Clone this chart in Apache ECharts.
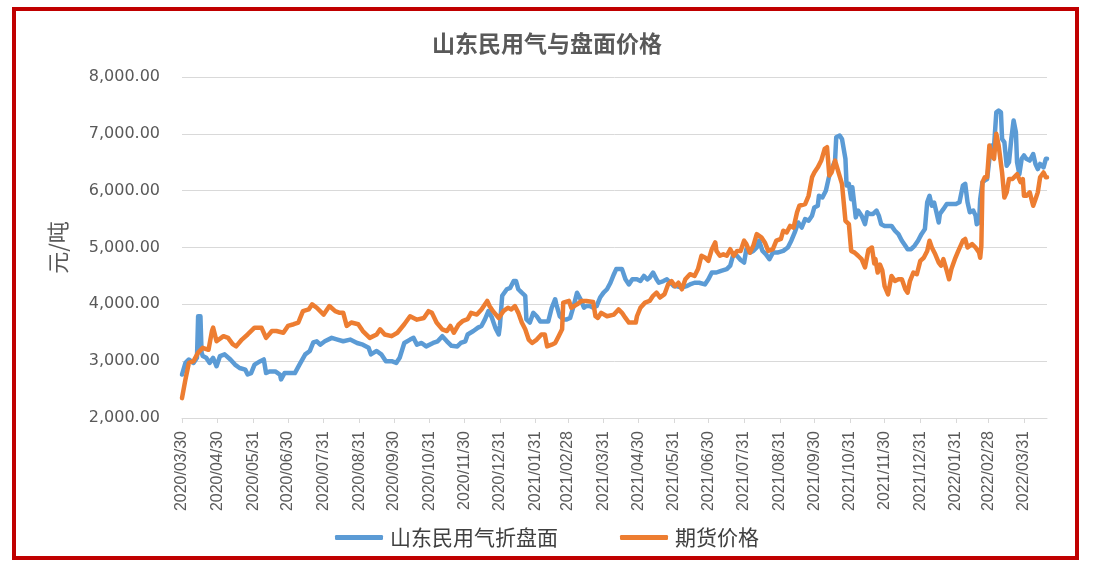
<!DOCTYPE html>
<html>
<head>
<meta charset="utf-8">
<script src="https://cdn.jsdelivr.net/npm/echarts@6/dist/echarts.min.js"></script>
<style>
html,body{margin:0;padding:0;background:#fff;}
#chart{width:1094px;height:569px;}
</style>
</head>
<body>
<div id="chart"></div>
<script>
// ---- Data ----
var chartTitle = '山东民用气与盘面价格';
var seriesNames = ['山东民用气折盘面', '期货价格'];
var yAxisName = '元/吨';
var xStart = '2020-03-30';
var xEnd = '2022-04-20';

var xTickLabels = ['2020/03/30','2020/04/30','2020/05/31','2020/06/30','2020/07/31','2020/08/31',
  '2020/09/30','2020/10/31','2020/11/30','2020/12/31','2021/01/31','2021/02/28','2021/03/31',
  '2021/04/30','2021/05/31','2021/06/30','2021/07/31','2021/08/31','2021/09/30','2021/10/31',
  '2021/11/30','2021/12/31','2022/01/31','2022/02/28','2022/03/31'];

var blueDates = ['2020-03-30','2020-04-02','2020-04-05','2020-04-09','2020-04-12','2020-04-13','2020-04-15','2020-04-16','2020-04-17','2020-04-20',
 '2020-04-23','2020-04-26','2020-04-29','2020-05-02','2020-05-06','2020-05-11','2020-05-15','2020-05-19','2020-05-24','2020-05-26',
 '2020-05-29','2020-06-01','2020-06-06','2020-06-09','2020-06-11','2020-06-14','2020-06-19','2020-06-23','2020-06-24','2020-06-27',
 '2020-07-02','2020-07-06','2020-07-10','2020-07-15','2020-07-19','2020-07-22','2020-07-25','2020-07-28','2020-08-01','2020-08-07',
 '2020-08-12','2020-08-17','2020-08-23','2020-08-29','2020-09-03','2020-09-08','2020-09-10','2020-09-15','2020-09-19','2020-09-23',
 '2020-09-28','2020-10-02','2020-10-05','2020-10-09','2020-10-14','2020-10-17','2020-10-20','2020-10-24','2020-10-28','2020-11-03',
 '2020-11-07','2020-11-11','2020-11-15','2020-11-19','2020-11-24','2020-11-27','2020-12-01','2020-12-03','2020-12-08','2020-12-12',
 '2020-12-15','2020-12-18','2020-12-21','2020-12-24','2020-12-27','2020-12-30','2020-12-31','2021-01-02','2021-01-06','2021-01-09',
 '2021-01-12','2021-01-14','2021-01-16','2021-01-19','2021-01-22','2021-01-23','2021-01-26','2021-01-29','2021-02-01','2021-02-04',
 '2021-02-08','2021-02-11','2021-02-14','2021-02-17','2021-02-18','2021-02-21','2021-02-24','2021-02-27','2021-03-02','2021-03-05',
 '2021-03-08','2021-03-11','2021-03-14','2021-03-16','2021-03-19','2021-03-22','2021-03-25','2021-03-28','2021-03-31','2021-04-03',
 '2021-04-06','2021-04-09','2021-04-11','2021-04-16','2021-04-19','2021-04-22','2021-04-25','2021-04-29','2021-05-02','2021-05-05',
 '2021-05-08','2021-05-10','2021-05-13','2021-05-16','2021-05-18','2021-05-22','2021-05-25','2021-05-28','2021-05-31','2021-06-02',
 '2021-06-07','2021-06-11','2021-06-14','2021-06-18','2021-06-22','2021-06-27','2021-06-30','2021-07-03','2021-07-07','2021-07-11',
 '2021-07-16','2021-07-19','2021-07-22','2021-07-25','2021-07-28','2021-07-31','2021-08-02','2021-08-05','2021-08-08','2021-08-11',
 '2021-08-13','2021-08-16','2021-08-19','2021-08-22','2021-08-25','2021-08-29','2021-09-03','2021-09-07','2021-09-10','2021-09-13',
 '2021-09-16','2021-09-19','2021-09-22','2021-09-25','2021-09-28','2021-09-30','2021-10-03','2021-10-04','2021-10-07','2021-10-10',
 '2021-10-13','2021-10-15','2021-10-18','2021-10-19','2021-10-22','2021-10-24','2021-10-27','2021-10-28','2021-10-30','2021-11-01',
 '2021-11-02','2021-11-05','2021-11-07','2021-11-10','2021-11-13','2021-11-15','2021-11-17','2021-11-20','2021-11-23','2021-11-25',
 '2021-11-27','2021-11-30','2021-12-03','2021-12-06','2021-12-09','2021-12-12','2021-12-15','2021-12-18','2021-12-20','2021-12-23',
 '2021-12-26','2021-12-29','2022-01-01','2022-01-04','2022-01-06','2022-01-08','2022-01-10','2022-01-12','2022-01-14','2022-01-16',
 '2022-01-17','2022-01-20','2022-01-23','2022-01-27','2022-01-31','2022-02-03','2022-02-06','2022-02-08','2022-02-10','2022-02-12',
 '2022-02-15','2022-02-17','2022-02-18','2022-02-20','2022-02-21','2022-02-23','2022-02-25','2022-02-27','2022-03-01','2022-03-03',
 '2022-03-05','2022-03-07','2022-03-09','2022-03-11','2022-03-12','2022-03-14','2022-03-16','2022-03-18','2022-03-20','2022-03-22',
 '2022-03-24','2022-03-25','2022-03-27','2022-03-29','2022-03-31','2022-04-02','2022-04-05','2022-04-08','2022-04-10','2022-04-12',
 '2022-04-14','2022-04-17','2022-04-19','2022-04-20'];
var blueValues = [2765,2970,3030,2970,3060,3790,3790,3150,3090,3060,
 2970,3060,2910,3090,3120,3030,2940,2880,2850,2765,
 2790,2940,3000,3030,2790,2820,2820,2765,2680,2790,
 2790,2790,2940,3120,3180,3330,3350,3290,3350,3410,
 3380,3350,3380,3320,3290,3235,3120,3180,3120,3000,
 3000,2970,3060,3320,3380,3410,3290,3320,3260,3320,
 3350,3440,3350,3270,3260,3320,3350,3470,3530,3590,
 3620,3735,3880,3770,3590,3470,3620,4150,4265,4290,
 4410,4410,4265,4205,4150,3735,3680,3850,3790,3700,
 3700,3700,3940,4090,4000,3790,3735,3735,3760,3970,
 4205,4090,3940,3970,3970,3940,3970,4120,4205,4265,
 4380,4530,4620,4620,4440,4350,4440,4440,4410,4500,
 4440,4470,4560,4440,4380,4410,4440,4380,4320,4320,
 4295,4320,4350,4380,4380,4350,4440,4560,4560,4590,
 4620,4680,4900,4850,4780,4735,4970,4910,4940,5000,
 5120,4940,4880,4795,4910,4910,4940,5000,5120,5265,
 5440,5350,5500,5470,5560,5705,5735,5910,5880,6000,
 6265,6380,6530,6940,6970,6910,6560,6090,6120,5850,
 6060,5530,5650,5560,5410,5620,5590,5590,5650,5560,
 5410,5380,5380,5380,5295,5235,5120,5030,4970,4970,
 5030,5120,5235,5325,5795,5910,5735,5790,5620,5440,
 5590,5675,5765,5765,5765,5795,6090,6120,5795,5620,
 5650,5560,5410,5440,5850,6150,6180,6205,6560,6795,
 6770,7380,7410,7380,6910,6850,6440,6500,6910,7235,
 7030,6500,6290,6560,6620,6560,6530,6645,6470,6380,
 6470,6410,6560,6560];

var orangeDates = ['2020-03-30','2020-04-02','2020-04-05','2020-04-09','2020-04-13','2020-04-17','2020-04-22','2020-04-25','2020-04-26','2020-04-29',
 '2020-05-05','2020-05-09','2020-05-13','2020-05-16','2020-05-21','2020-05-26','2020-06-01','2020-06-07','2020-06-11','2020-06-16',
 '2020-06-20','2020-06-26','2020-06-30','2020-07-05','2020-07-09','2020-07-13','2020-07-18','2020-07-21','2020-07-25','2020-07-31',
 '2020-08-05','2020-08-10','2020-08-14','2020-08-17','2020-08-20','2020-08-24','2020-08-30','2020-09-03','2020-09-09','2020-09-15',
 '2020-09-18','2020-09-22','2020-09-28','2020-10-03','2020-10-09','2020-10-14','2020-10-20','2020-10-26','2020-10-30','2020-11-02',
 '2020-11-06','2020-11-11','2020-11-15','2020-11-18','2020-11-21','2020-11-25','2020-11-29','2020-12-03','2020-12-06','2020-12-11',
 '2020-12-15','2020-12-20','2020-12-22','2020-12-25','2020-12-30','2021-01-03','2021-01-07','2021-01-10','2021-01-13','2021-01-16',
 '2021-01-19','2021-01-22','2021-01-25','2021-01-28','2021-02-01','2021-02-05','2021-02-08','2021-02-10','2021-02-14','2021-02-17',
 '2021-02-20','2021-02-23','2021-02-24','2021-03-01','2021-03-03','2021-03-08','2021-03-12','2021-03-16','2021-03-22','2021-03-24',
 '2021-03-26','2021-03-29','2021-04-03','2021-04-09','2021-04-13','2021-04-16','2021-04-19','2021-04-22','2021-04-25','2021-04-28',
 '2021-04-29','2021-05-02','2021-05-06','2021-05-10','2021-05-13','2021-05-16','2021-05-19','2021-05-23','2021-05-26','2021-05-29',
 '2021-06-01','2021-06-04','2021-06-07','2021-06-10','2021-06-14','2021-06-18','2021-06-21','2021-06-24','2021-06-27','2021-06-30',
 '2021-07-03','2021-07-06','2021-07-07','2021-07-10','2021-07-13','2021-07-16','2021-07-19','2021-07-22','2021-07-25','2021-07-28',
 '2021-07-31','2021-08-02','2021-08-05','2021-08-08','2021-08-11','2021-08-15','2021-08-18','2021-08-21','2021-08-25','2021-08-28',
 '2021-09-01','2021-09-03','2021-09-06','2021-09-09','2021-09-12','2021-09-15','2021-09-17','2021-09-22','2021-09-25','2021-09-28',
 '2021-09-30','2021-10-03','2021-10-06','2021-10-09','2021-10-11','2021-10-13','2021-10-15','2021-10-18','2021-10-21','2021-10-24',
 '2021-10-27','2021-10-30','2021-11-01','2021-11-04','2021-11-07','2021-11-10','2021-11-13','2021-11-16','2021-11-19','2021-11-21',
 '2021-11-22','2021-11-24','2021-11-26','2021-11-28','2021-11-30','2021-12-03','2021-12-06','2021-12-09','2021-12-12','2021-12-15',
 '2021-12-18','2021-12-20','2021-12-22','2021-12-25','2021-12-28','2021-12-31','2022-01-03','2022-01-06','2022-01-08','2022-01-10',
 '2022-01-13','2022-01-16','2022-01-18','2022-01-20','2022-01-23','2022-01-25','2022-01-27','2022-01-30','2022-02-02','2022-02-06',
 '2022-02-08','2022-02-10','2022-02-14','2022-02-17','2022-02-20','2022-02-21','2022-02-22','2022-02-23','2022-02-25','2022-02-27',
 '2022-03-01','2022-03-03','2022-03-05','2022-03-07','2022-03-09','2022-03-12','2022-03-14','2022-03-16','2022-03-18','2022-03-21',
 '2022-03-25','2022-03-28','2022-03-30','2022-03-31','2022-04-02','2022-04-05','2022-04-08','2022-04-10','2022-04-12','2022-04-14',
 '2022-04-17','2022-04-19','2022-04-20'];
var orangeValues = [2350,2680,2970,3000,3150,3235,3200,3530,3590,3350,
 3440,3410,3300,3260,3380,3470,3590,3590,3410,3530,
 3530,3500,3620,3650,3680,3880,3910,4000,3940,3820,
 3970,3880,3850,3850,3620,3680,3650,3530,3410,3470,
 3560,3470,3440,3500,3650,3790,3730,3760,3880,3850,
 3680,3560,3530,3620,3500,3640,3710,3740,3850,3820,
 3910,4060,3970,3880,3760,3880,3940,3910,3970,3850,
 3680,3560,3380,3320,3380,3470,3470,3260,3290,3320,
 3440,3560,4030,4060,3940,4000,4060,4060,4040,3790,
 3760,3850,3790,3820,3910,3850,3760,3680,3680,3680,
 3790,3940,4030,4060,4150,4205,4120,4180,4350,4410,
 4320,4380,4265,4440,4530,4500,4620,4855,4825,4765,
 4970,5090,4940,4855,4880,4855,4970,4855,4940,4940,
 5120,5060,4910,5030,5235,5180,5090,4940,4970,5120,
 5150,5295,5265,5380,5350,5620,5735,5765,5910,6235,
 6320,6410,6530,6735,6765,6265,6320,6530,6320,6120,
 5470,5410,4940,4910,4855,4795,4650,4960,5000,4720,
 4800,4560,4700,4600,4320,4175,4500,4410,4440,4440,
 4265,4205,4410,4560,4530,4765,4820,4940,5120,5000,
 4880,4735,4680,4795,4590,4440,4620,4795,4940,5120,
 5150,5000,5060,5000,4910,4820,5030,6150,6235,6235,
 6795,6620,6560,7000,6795,6320,5880,5970,6205,6205,
 6290,6150,6205,5910,5910,5970,5735,5850,5970,6235,
 6320,6235,6235];

// ---- Build chart ----
function ts(s){ return echarts.time.parse(s.replace(/\//g,'-')).getTime(); }
var tickValues = xTickLabels.map(ts);
var labelByTs = {};
tickValues.forEach(function(t,i){ labelByTs[t] = xTickLabels[i]; });

function zip(d, v){ return d.map(function(x,i){ return [ts(x), v[i]]; }); }

var chart = echarts.init(document.getElementById('chart'));
var option = {
  animation: false,
  backgroundColor: '#ffffff',
  title: {
    text: chartTitle,
    left: 'center',
    top: 27,
    textStyle: {fontSize: 23, fontWeight: 'bold', color: '#595959', fontFamily: 'Noto Sans CJK SC'}
  },
  legend: {
    top: 522,
    left: 330,
    itemWidth: 48,
    itemHeight: 5,
    itemGap: 62,
    icon: 'roundRect',
    textStyle: {fontSize: 21, color: '#404040', fontFamily: 'Noto Sans CJK SC', padding: [0, 0, 0, 2]},
    data: seriesNames
  },
  grid: {left: 182, right: 47, top: 77, bottom: 151, containLabel: false},
  xAxis: {
    type: 'value',
    min: ts(xStart),
    max: ts(xEnd),
    axisLine: {show: true, onZero: false, lineStyle: {color: '#D9D9D9', width: 1}},
    axisTick: {show: true, length: 5, lineStyle: {color: '#D9D9D9'}, customValues: tickValues},
    splitLine: {show: false},
    axisLabel: {
      customValues: tickValues,
      rotate: 90,
      margin: 13,
      fontSize: 16,
      color: '#595959',
      fontFamily: 'Liberation Sans',
      formatter: function(v){ return labelByTs[v] || ''; }
    }
  },
  yAxis: {
    type: 'value',
    min: 2000,
    max: 8000,
    interval: 1000,
    name: yAxisName,
    nameLocation: 'middle',
    nameRotate: 90,
    nameGap: 113,
    nameTextStyle: {fontSize: 22, color: '#595959', fontFamily: 'Noto Sans CJK SC'},
    axisLine: {show: false},
    axisTick: {show: false},
    splitLine: {lineStyle: {color: '#D9D9D9', width: 1}},
    axisLabel: {
      margin: 22,
      fontSize: 16,
      color: '#595959',
      fontFamily: 'DejaVu Sans',
      formatter: function(v){ return v.toLocaleString('en-US', {minimumFractionDigits: 2, maximumFractionDigits: 2}); }
    }
  },
  series: [
    {
      name: seriesNames[0], type: 'line', symbol: 'none', smooth: false,
      lineStyle: {color: '#5B9BD5', width: 4.5, cap: 'round', join: 'round'},
      itemStyle: {color: '#5B9BD5'},
      data: zip(blueDates, blueValues)
    },
    {
      name: seriesNames[1], type: 'line', symbol: 'none', smooth: false,
      lineStyle: {color: '#ED7D31', width: 4.5, cap: 'round', join: 'round'},
      itemStyle: {color: '#ED7D31'},
      data: zip(orangeDates, orangeValues)
    }
  ],
  graphic: [{
    type: 'rect', silent: true, z: 100,
    shape: {x: 14, y: 9, width: 1063, height: 549},
    style: {fill: 'none', stroke: '#C00000', lineWidth: 4}
  }]
};
chart.setOption(option);
</script>
</body>
</html>
